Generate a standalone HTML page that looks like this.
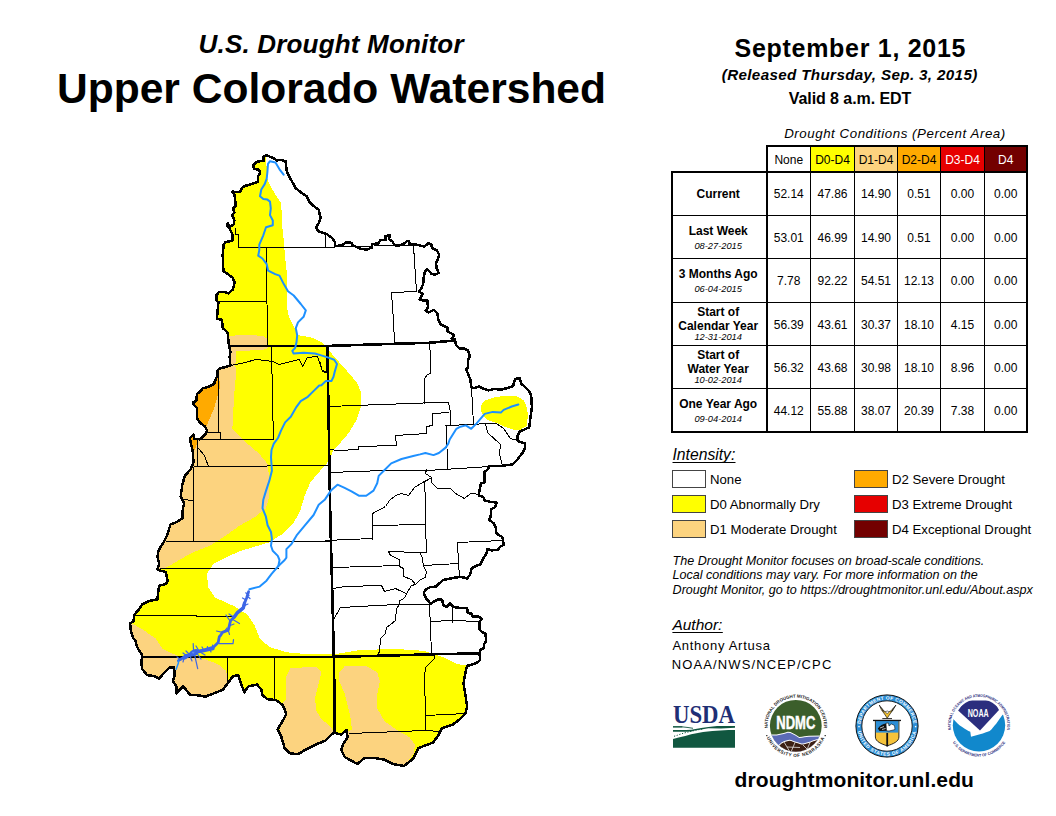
<!DOCTYPE html><html><head><meta charset="utf-8"><title>U.S. Drought Monitor - Upper Colorado Watershed</title>
<style>html,body{margin:0;padding:0;background:#fff;}svg{display:block;}text{font-family:"Liberation Sans",Arial,sans-serif;}</style></head><body>
<svg width="1056" height="816" viewBox="0 0 1056 816">
<rect width="1056" height="816" fill="#fff"/>
<text x="331" y="53" text-anchor="middle" font-size="26" font-weight="bold" font-style="italic" textLength="265" lengthAdjust="spacing">U.S. Drought Monitor</text>
<text x="331.5" y="102.5" text-anchor="middle" font-size="42.8" font-weight="bold" textLength="549" lengthAdjust="spacingAndGlyphs">Upper Colorado Watershed</text>
<text x="850" y="56.8" text-anchor="middle" font-size="25" font-weight="bold" textLength="231" lengthAdjust="spacing">September 1, 2015</text>
<text x="849.5" y="80.4" text-anchor="middle" font-size="15.2" font-weight="bold" font-style="italic" textLength="255.5" lengthAdjust="spacing">(Released Thursday, Sep. 3, 2015)</text>
<text x="850" y="104.1" text-anchor="middle" font-size="16" font-weight="bold" textLength="122.5" lengthAdjust="spacing">Valid 8 a.m. EDT</text>
<text x="894.7" y="138" text-anchor="middle" font-size="13.3" font-style="italic" textLength="221" lengthAdjust="spacing">Drought Conditions (Percent Area)</text>
<rect x="767" y="146" width="43.5" height="26" fill="#ffffff"/>
<text x="788.75" y="163.8" text-anchor="middle" font-size="12" fill="#000">None</text>
<rect x="810.5" y="146" width="44.0" height="26" fill="#ffff00"/>
<text x="832.5" y="163.8" text-anchor="middle" font-size="12" fill="#000">D0-D4</text>
<rect x="854.5" y="146" width="43.0" height="26" fill="#fcd37f"/>
<text x="876.0" y="163.8" text-anchor="middle" font-size="12" fill="#000">D1-D4</text>
<rect x="897.5" y="146" width="43.0" height="26" fill="#ffaa00"/>
<text x="919.0" y="163.8" text-anchor="middle" font-size="12" fill="#000">D2-D4</text>
<rect x="940.5" y="146" width="44.0" height="26" fill="#e60000"/>
<text x="962.5" y="163.8" text-anchor="middle" font-size="12" fill="#fff">D3-D4</text>
<rect x="984.5" y="146" width="42.5" height="26" fill="#730000"/>
<text x="1005.75" y="163.8" text-anchor="middle" font-size="12" fill="#fff">D4</text>
<rect x="672" y="172" width="355" height="260" fill="#fff"/>
<text x="788.75" y="197.7" text-anchor="middle" font-size="12">52.14</text>
<text x="832.5" y="197.7" text-anchor="middle" font-size="12">47.86</text>
<text x="876.0" y="197.7" text-anchor="middle" font-size="12">14.90</text>
<text x="919.0" y="197.7" text-anchor="middle" font-size="12">0.51</text>
<text x="962.5" y="197.7" text-anchor="middle" font-size="12">0.00</text>
<text x="1005.75" y="197.7" text-anchor="middle" font-size="12">0.00</text>
<text x="718.2" y="197.7" text-anchor="middle" font-size="12" font-weight="bold">Current</text>
<text x="788.75" y="242.0" text-anchor="middle" font-size="12">53.01</text>
<text x="832.5" y="242.0" text-anchor="middle" font-size="12">46.99</text>
<text x="876.0" y="242.0" text-anchor="middle" font-size="12">14.90</text>
<text x="919.0" y="242.0" text-anchor="middle" font-size="12">0.51</text>
<text x="962.5" y="242.0" text-anchor="middle" font-size="12">0.00</text>
<text x="1005.75" y="242.0" text-anchor="middle" font-size="12">0.00</text>
<text x="718.2" y="235.0" text-anchor="middle" font-size="12" font-weight="bold">Last Week</text>
<text x="718.2" y="249.1" text-anchor="middle" font-size="9.3" font-style="italic">08-27-2015</text>
<text x="788.75" y="285.0" text-anchor="middle" font-size="12">7.78</text>
<text x="832.5" y="285.0" text-anchor="middle" font-size="12">92.22</text>
<text x="876.0" y="285.0" text-anchor="middle" font-size="12">54.51</text>
<text x="919.0" y="285.0" text-anchor="middle" font-size="12">12.13</text>
<text x="962.5" y="285.0" text-anchor="middle" font-size="12">0.00</text>
<text x="1005.75" y="285.0" text-anchor="middle" font-size="12">0.00</text>
<text x="718.2" y="278.0" text-anchor="middle" font-size="12" font-weight="bold">3 Months Ago</text>
<text x="718.2" y="292.1" text-anchor="middle" font-size="9.3" font-style="italic">06-04-2015</text>
<text x="788.75" y="328.7" text-anchor="middle" font-size="12">56.39</text>
<text x="832.5" y="328.7" text-anchor="middle" font-size="12">43.61</text>
<text x="876.0" y="328.7" text-anchor="middle" font-size="12">30.37</text>
<text x="919.0" y="328.7" text-anchor="middle" font-size="12">18.10</text>
<text x="962.5" y="328.7" text-anchor="middle" font-size="12">4.15</text>
<text x="1005.75" y="328.7" text-anchor="middle" font-size="12">0.00</text>
<text x="718.2" y="315.7" text-anchor="middle" font-size="12" font-weight="bold">Start of</text>
<text x="718.2" y="329.6" text-anchor="middle" font-size="12" font-weight="bold">Calendar Year</text>
<text x="718.2" y="339.8" text-anchor="middle" font-size="9.3" font-style="italic">12-31-2014</text>
<text x="788.75" y="371.9" text-anchor="middle" font-size="12">56.32</text>
<text x="832.5" y="371.9" text-anchor="middle" font-size="12">43.68</text>
<text x="876.0" y="371.9" text-anchor="middle" font-size="12">30.98</text>
<text x="919.0" y="371.9" text-anchor="middle" font-size="12">18.10</text>
<text x="962.5" y="371.9" text-anchor="middle" font-size="12">8.96</text>
<text x="1005.75" y="371.9" text-anchor="middle" font-size="12">0.00</text>
<text x="718.2" y="358.7" text-anchor="middle" font-size="12" font-weight="bold">Start of</text>
<text x="718.2" y="372.6" text-anchor="middle" font-size="12" font-weight="bold">Water Year</text>
<text x="718.2" y="382.8" text-anchor="middle" font-size="9.3" font-style="italic">10-02-2014</text>
<text x="788.75" y="414.6" text-anchor="middle" font-size="12">44.12</text>
<text x="832.5" y="414.6" text-anchor="middle" font-size="12">55.88</text>
<text x="876.0" y="414.6" text-anchor="middle" font-size="12">38.07</text>
<text x="919.0" y="414.6" text-anchor="middle" font-size="12">20.39</text>
<text x="962.5" y="414.6" text-anchor="middle" font-size="12">7.38</text>
<text x="1005.75" y="414.6" text-anchor="middle" font-size="12">0.00</text>
<text x="718.2" y="408.0" text-anchor="middle" font-size="12" font-weight="bold">One Year Ago</text>
<text x="718.2" y="422.1" text-anchor="middle" font-size="9.3" font-style="italic">09-04-2014</text>
<line x1="672" y1="215.5" x2="1027" y2="215.5" stroke="#000" stroke-width="1"/>
<line x1="672" y1="258.5" x2="1027" y2="258.5" stroke="#000" stroke-width="1"/>
<line x1="672" y1="302.5" x2="1027" y2="302.5" stroke="#000" stroke-width="1"/>
<line x1="672" y1="345.5" x2="1027" y2="345.5" stroke="#000" stroke-width="1"/>
<line x1="672" y1="388.5" x2="1027" y2="388.5" stroke="#000" stroke-width="1"/>
<line x1="810.5" y1="146" x2="810.5" y2="432" stroke="#000" stroke-width="1"/>
<line x1="854.5" y1="146" x2="854.5" y2="432" stroke="#000" stroke-width="1"/>
<line x1="897.5" y1="146" x2="897.5" y2="432" stroke="#000" stroke-width="1"/>
<line x1="940.5" y1="146" x2="940.5" y2="432" stroke="#000" stroke-width="1"/>
<line x1="984.5" y1="146" x2="984.5" y2="432" stroke="#000" stroke-width="1"/>
<path d="M767,146 H1027 V432 H672 V172 H1027" fill="none" stroke="#000" stroke-width="2"/>
<line x1="767" y1="145" x2="767" y2="432" stroke="#000" stroke-width="2"/>
<text x="672.5" y="459.8" font-size="15.7" font-style="italic">Intensity:</text>
<line x1="672.5" y1="462.5" x2="735.5" y2="462.5" stroke="#000" stroke-width="1"/>
<rect x="672.5" y="470.5" width="33" height="17" fill="#ffffff" stroke="#444" stroke-width="1"/>
<text x="710" y="483.7" font-size="13.2">None</text>
<rect x="672.5" y="495.5" width="33" height="17" fill="#ffff00" stroke="#444" stroke-width="1"/>
<text x="710" y="508.7" font-size="13.2">D0 Abnormally Dry</text>
<rect x="672.5" y="520.5" width="33" height="17" fill="#fcd37f" stroke="#444" stroke-width="1"/>
<text x="710" y="533.7" font-size="13.2">D1 Moderate Drought</text>
<rect x="854.5" y="470.5" width="33" height="17" fill="#ffaa00" stroke="#444" stroke-width="1"/>
<text x="892" y="483.7" font-size="13.2">D2 Severe Drought</text>
<rect x="854.5" y="495.5" width="33" height="17" fill="#e60000" stroke="#444" stroke-width="1"/>
<text x="892" y="508.7" font-size="13.2">D3 Extreme Drought</text>
<rect x="854.5" y="520.5" width="33" height="17" fill="#730000" stroke="#444" stroke-width="1"/>
<text x="892" y="533.7" font-size="13.2">D4 Exceptional Drought</text>
<text x="672.6" y="564.9" font-size="12.55" font-style="italic">The Drought Monitor focuses on broad-scale conditions.</text>
<text x="672.6" y="579.4" font-size="12.55" font-style="italic">Local conditions may vary. For more information on the</text>
<text x="672.6" y="593.9" font-size="12.55" font-style="italic">Drought Monitor, go to https://droughtmonitor.unl.edu/About.aspx</text>
<text x="672.4" y="629.7" font-size="15.5" font-style="italic">Author:</text>
<line x1="672.4" y1="632.5" x2="722.8" y2="632.5" stroke="#000" stroke-width="1"/>
<text x="672.4" y="649.5" font-size="13" textLength="97.5" lengthAdjust="spacing">Anthony Artusa</text>
<text x="671.8" y="668.5" font-size="13" textLength="159.5" lengthAdjust="spacing">NOAA/NWS/NCEP/CPC</text>
<text x="854.2" y="787" text-anchor="middle" font-size="21" font-weight="bold" textLength="239.5" lengthAdjust="spacing">droughtmonitor.unl.edu</text>
<text x="673" y="722.7" style="font-family:'Liberation Serif',serif" font-size="26" font-weight="bold" fill="#1f2f75" textLength="62" lengthAdjust="spacingAndGlyphs">USDA</text>
<g fill="#115740"><polygon points="673,739.1 678.6,737.6 685.2,735.9 691.2,734.3 697.8,732.9 703.1,731.9 712.4,731.1 728.3,730.1 735,729.9 735,747.7 673,747.7"/><rect x="673" y="726.1" width="9.6" height="1.5"/><polygon points="717,726.1 735,726.1 735,727.8 721,728.6 708.4,728.3 701.2,729.4 695,730.6 691.2,731.4 686,731.7 673,731.7 673,730.1 686,730.1 691.2,729.7 701.2,727.9 708.4,727 "/></g>
<polyline points="682.6,726.9 688,727.5 693,728.3" fill="none" stroke="#115740" stroke-width="0.9"/>
<polyline points="674,736.3 677.3,735.3 680,734.3 684,733 690,731.6 696.5,730 703,729" fill="none" stroke="#115740" stroke-width="1" stroke-dasharray="1.2,1.6"/>
<defs><clipPath id="ndmcc"><circle cx="795.8" cy="725.8" r="25.9"/></clipPath><path id="ndmcarc" d="M768.03,730.70 A28.2,28.2 0 1,1 823.57,730.70"/><path id="ndmcarc2" d="M766.48,736.47 A31.2,31.2 0 0,0 825.12,736.47"/></defs>
<g clip-path="url(#ndmcc)"><rect x="768.8" y="698.8" width="54" height="54" fill="#3b5e2b"/><path d="M765,734.4 L771.1,734.4 C776,734.8 781,734 787.8,731.7 C791,731.6 794,733.5 799.2,737.1 C803,736.8 806,735.9 809,735.8 L826,735.5 V760 H765 Z" fill="#fff"/><path d="M765,735.4 L771.1,735.4 C776,735.8 781,735 787.8,732.7 C791,732.6 794,734.5 799.2,738.1 C803,737.8 806,736.9 809,736.8 L826,736.5 V760 H765 Z" fill="#5b6bb6"/><path d="M765,760 L765,747 L778.7,745.2 C781,742.6 783,741 789.3,739.8 C792,740 794,741.4 796.9,742.1 C799,742.9 801,743.6 803,743.6 C806,742.8 808,742 810.6,741.4 C813,740 816,739 826,737.5 V760 Z" fill="#fff"/><path d="M765,760 L765,748 L778.9,746.2 C781.2,743.6 783.2,742 789.3,740.8 C792,741 794,742.4 796.9,743.1 C799,743.9 801,744.6 803,744.6 C806,743.8 808,743 810.6,742.4 C813,741 816,740 826,738.5 V760 Z" fill="#3d2014"/><path d="M784,742 L790,752 M795,742.5 L791,752 M803,745 L808,750 M810,742.5 L806,752 M787,747 L800,747.5" stroke="#fff" stroke-width="0.7" fill="none"/></g>
<text x="795.8" y="728.6" text-anchor="middle" font-size="18" font-weight="bold" fill="#fff" stroke="#fff" stroke-width="0.5" textLength="39" lengthAdjust="spacingAndGlyphs">NDMC</text>
<text font-size="4.4" font-weight="bold" fill="#1a1a1a"><textPath href="#ndmcarc" startOffset="50%" text-anchor="middle" textLength="93" lengthAdjust="spacingAndGlyphs">NATIONAL DROUGHT MITIGATION CENTER</textPath></text>
<text font-size="4.6" font-weight="bold" fill="#1a1a1a" letter-spacing="0.5"><textPath href="#ndmcarc2" startOffset="50%" text-anchor="middle">UNIVERSITY OF NEBRASKA</textPath></text>
<rect x="766.2" y="735" width="1.2" height="1.2" fill="#1a1a1a"/><rect x="824.6" y="735" width="1.2" height="1.2" fill="#1a1a1a"/>
<circle cx="887" cy="726" r="31.1" fill="#2c8ed6" stroke="#111" stroke-width="1"/>
<circle cx="887" cy="726" r="25.2" fill="#fff" stroke="#111" stroke-width="0.9"/>
<defs><path id="docarc" d="M860.86,729.67 A26.4,26.4 0 1,1 913.14,729.67"/><path id="docarc2" d="M857.59,730.13 A29.7,29.7 0 0,0 916.41,730.13"/></defs>
<text font-size="4.8" font-weight="bold" fill="#fff" letter-spacing="0.35"><textPath href="#docarc" startOffset="50%" text-anchor="middle">DEPARTMENT OF COMMERCE</textPath></text>
<text font-size="4.8" font-weight="bold" fill="#fff" letter-spacing="0.55"><textPath href="#docarc2" startOffset="50%" text-anchor="middle">UNITED STATES OF AMERICA</textPath></text>
<rect x="858.3" y="725.9" width="1.4" height="1.4" fill="#fff"/><rect x="914.9" y="725.9" width="1.4" height="1.4" fill="#fff"/>
<path d="M875.4,720.6 H898.9 V737 C898.9,741.5 893,744 887.2,745.8 C881.4,744 875.4,741.5 875.4,737 Z" fill="#f5c33b" stroke="#111" stroke-width="0.9"/>
<rect x="875.9" y="721" width="22.5" height="11.6" fill="#2c8ed6"/>
<rect x="873" y="719.8" width="28" height="1.3" fill="#111"/>
<path d="M877.8,728.5 C880,725.5 883,724 886,723.6 L887,730.8 L879.5,731 Z" fill="#111"/>
<path d="M886,723.2 L888.5,723 L889,726 L891.5,724 L894.5,725.5 L895,729.5 L889,731 L886.5,730.8 Z" fill="#fff" stroke="#111" stroke-width="0.6"/>
<path d="M880,728 L884,726.5 M882,729.5 L885.5,728.5 M889.5,727 L893.5,726.8 M890,729 L894,728.6" stroke="#fff" stroke-width="0.7"/>
<line x1="887.2" y1="733" x2="887.2" y2="746.5" stroke="#111" stroke-width="1.8"/>
<path d="M879.3,705 L881.5,710 L884.5,714 L887.2,718.2 L890,714 L893,710 L895.9,705 L893.5,708.5 L890.5,711 L887.2,712.5 L884,711 L881.5,708.5 Z" fill="#f2c12e" stroke="#1a1a1a" stroke-width="0.7"/>
<path d="M880.5,707 L883,709.5 M882,710 L884.5,712 M894.6,707 L892,709.5 M893.2,710 L890.5,712" stroke="#1a1a1a" stroke-width="0.8"/>
<circle cx="887.2" cy="712.2" r="1.3" fill="#fff" stroke="#1a1a1a" stroke-width="0.5"/>
<line x1="882.3" y1="718.6" x2="892" y2="718.6" stroke="#111" stroke-width="0.9"/>
<defs><clipPath id="noaac"><circle cx="979" cy="725.2" r="26.2"/></clipPath><path id="noaaarc" d="M951.32,731.08 A28.3,28.3 0 1,1 1006.68,731.08"/><path id="noaaarc2" d="M950.45,738.51 A31.5,31.5 0 0,0 1007.55,738.51"/></defs>
<g clip-path="url(#noaac)"><rect x="952" y="698.2" width="54" height="54" fill="#fff"/><polygon points="958.1,710.4 963.5,703 968,700.6 990,700.6 995,703 999,710 980,730.6" fill="#2b2e7e"/><path d="M950,717 L953.3,718.9 C956,722 959,725 962.2,727 C965,729 968,731 970.3,731.8 L971,736.7 L980,734.3 C984,733 987,732 989.7,731 C992,729 994,726 996.2,723.7 C998.5,720.5 1000.5,717.5 1002.6,714.8 L1008,712 V760 H950 Z" fill="#1188cc"/></g>
<text x="978.2" y="717.3" text-anchor="middle" font-size="10.2" font-weight="bold" fill="#fff" textLength="21" lengthAdjust="spacingAndGlyphs">NOAA</text>
<text font-size="3.9" font-weight="bold" fill="#2b2e7e"><textPath href="#noaaarc" startOffset="50%" text-anchor="middle" textLength="98" lengthAdjust="spacingAndGlyphs">NATIONAL OCEANIC AND ATMOSPHERIC ADMINISTRATION</textPath></text>
<text font-size="3.9" font-weight="bold" fill="#2b2e7e"><textPath href="#noaaarc2" startOffset="50%" text-anchor="middle" textLength="62" lengthAdjust="spacingAndGlyphs">U.S. DEPARTMENT OF COMMERCE</textPath></text>
<defs><clipPath id="ws"><polygon points="266.0,155.1 272.8,157.8 276.8,160.5 280.9,159.8 285.6,161.2 286.9,172.0 290.3,178.7 294.3,185.4 295.7,188.1 302.4,193.5 306.5,196.2 309.2,201.6 313.2,205.6 318.6,209.7 320.6,217.8 318.6,223.2 315.9,227.9 318.6,231.3 326.7,234.0 332.1,238.0 334.8,242.0 335.4,246.1 342.3,245.2 345.9,242.2 351.5,242.8 352.7,245.2 358.2,247.7 360.6,248.9 366.8,249.5 371.7,247.7 372.3,244.0 378.4,243.4 380.3,240.3 385.8,239.7 385.2,236.0 390.0,235.4 388.8,239.1 392.5,241.5 394.4,245.2 398.6,245.8 403.5,244.0 407.2,240.9 409.1,240.9 409.7,244.6 415.8,244.6 424.4,246.5 428.1,243.4 431.1,244.0 432.3,248.3 436.6,250.1 439.1,254.4 437.9,259.3 436.0,263.0 436.6,267.9 438.5,272.8 435.4,274.6 431.7,274.0 429.3,271.0 426.8,269.1 425.0,271.6 423.8,276.5 423.2,283.8 421.3,288.7 418.9,291.2 419.7,292.2 423.0,293.9 421.3,296.6 419.7,299.9 424.1,300.5 427.4,300.5 428.0,307.6 425.8,310.4 428.5,312.6 431.8,310.9 434.0,309.8 437.3,313.2 438.4,319.8 440.6,324.2 443.9,325.8 447.8,328.0 447.3,331.3 450.6,333.0 453.9,335.2 451.7,338.5 455.0,339.6 456.1,345.1 459.4,348.4 463.8,348.4 468.2,350.6 469.9,356.2 468.2,359.5 467.7,368.3 466.0,369.4 468.2,373.8 470.4,380.0 471.2,387.0 473.9,388.3 479.3,386.3 482.0,388.3 488.8,390.3 494.2,389.0 500.9,389.7 506.3,388.3 513.0,386.3 515.1,378.9 519.8,378.2 521.1,383.6 525.2,387.0 529.2,391.0 531.2,395.7 531.9,407.2 530.6,416.6 529.2,427.4 519.8,431.5 517.7,435.5 517.7,440.9 525.2,443.6 525.2,447.6 522.5,453.0 517.1,459.8 512.6,464.4 500.9,465.9 489.1,465.9 488.4,468.8 484.7,471.8 484.7,482.1 481.0,483.5 479.6,489.4 478.8,495.3 483.2,496.8 484.7,500.4 490.6,501.9 496.5,502.6 495.0,507.1 491.3,509.3 490.6,517.4 489.1,519.6 493.5,523.2 495.7,527.6 496.5,533.5 502.4,537.2 503.8,544.6 500.1,546.8 497.9,549.7 492.1,550.4 487.6,549.0 486.2,554.1 483.2,558.5 481.5,562.0 480.3,564.4 474.4,566.6 471.5,568.8 470.0,574.7 467.1,578.4 461.2,576.9 455.3,577.6 443.5,579.9 439.1,583.5 436.2,586.5 430.3,587.2 425.9,589.4 423.7,593.1 425.9,598.2 428.8,601.2 430.3,604.1 434.7,601.2 437.6,599.7 442.1,599.7 443.5,605.6 446.5,607.1 450.1,603.4 453.8,607.1 459.7,607.8 467.1,607.8 467.8,612.9 471.5,613.7 472.9,616.6 478.8,616.6 481.8,618.8 479.6,621.8 479.6,629.1 481.8,632.1 485.4,633.5 486.2,640.9 484.0,644.6 484.0,648.2 480.3,649.7 479.6,654.1 480.3,660.0 477.4,662.2 472.9,664.4 467.1,665.9 465.6,671.8 463.5,683.2 465.3,694.0 467.1,706.6 465.3,713.8 459.9,719.2 452.7,724.6 441.9,728.2 438.3,735.4 432.9,742.6 418.5,748.0 413.1,758.7 404.1,765.9 393.4,764.1 384.4,759.6 373.6,757.8 364.6,757.8 357.4,764.1 344.8,757.0 341.2,749.8 343.0,744.4 347.5,737.2 346.6,730.0 341.2,734.5 334.0,732.7 330.4,735.4 325.0,740.8 316.0,744.4 305.2,749.8 298.0,754.2 289.7,753.2 284.6,748.1 281.1,736.1 277.7,729.2 282.9,720.6 286.3,713.8 282.9,705.2 276.0,700.1 267.4,699.2 262.3,694.9 261.4,689.8 257.1,684.6 248.5,686.3 244.3,692.3 240.8,682.9 238.2,675.2 233.1,676.0 228.0,682.9 222.8,689.8 214.2,693.2 205.6,696.6 195.3,694.9 190.2,694.9 183.3,686.3 176.5,693.2 176.5,686.3 173.0,681.2 174.8,674.3 173.9,667.5 169.6,667.5 162.7,674.3 159.3,678.6 154.2,676.0 147.3,675.2 142.2,669.2 141.3,662.3 142.2,655.4 137.0,646.9 135.3,640.0 133.5,638.6 131.0,631.8 130.1,623.3 133.5,621.6 134.4,614.8 138.6,609.7 142.0,604.5 148.9,601.1 157.4,599.4 158.2,592.6 159.1,585.8 165.9,584.1 167.6,580.7 165.9,572.2 157.4,569.6 159.1,563.6 157.4,556.8 158.5,551.0 160.2,547.4 163.6,542.3 167.0,535.4 170.5,524.4 177.3,521.8 182.4,518.4 182.4,511.6 184.1,503.1 180.7,496.2 182.4,484.3 184.9,475.8 190.9,469.0 193.5,462.2 192.6,450.2 190.7,442.3 189.9,438.0 193.5,434.5 194.2,438.7 199.9,439.4 202.7,436.6 205.6,433.8 207.0,430.2 204.9,426.6 199.9,422.4 197.0,418.1 197.0,408.2 194.2,405.3 192.8,402.5 196.3,401.1 197.0,394.0 199.9,391.8 202.7,388.3 208.4,386.9 214.1,384.0 214.8,381.2 216.9,376.9 217.6,370.5 219.8,368.4 225.5,367.0 230.4,365.6 229.7,357.0 230.4,351.4 229.0,345.7 228.4,340.9 227.6,332.4 222.7,328.1 222.0,319.6 217.0,318.9 217.7,309.7 218.4,302.6 216.3,300.4 216.3,295.5 219.1,291.9 224.1,291.9 228.4,293.3 232.6,289.8 234.7,282.7 232.6,277.7 226.9,273.4 223.4,271.3 222.7,255.0 223.6,244.7 225.6,242.0 232.3,240.7 232.3,234.0 229.6,228.6 227.0,225.9 227.6,223.2 229.6,227.2 233.7,224.5 234.4,220.5 232.3,215.1 234.4,212.4 233.0,208.3 235.7,205.6 235.0,198.9 234.4,194.9 232.3,191.5 236.4,192.2 240.4,191.5 241.8,188.1 244.5,186.1 253.9,183.4 258.0,181.4 258.0,176.0 260.0,173.3 259.3,169.9 253.9,168.6 253.2,165.2 256.6,161.8 264.0,160.5 263.3,157.1"/></clipPath></defs>
<g clip-path="url(#ws)" shape-rendering="crispEdges">
<polygon points="266.0,150.0 266.0,157.8 267.4,178.7 270.0,185.4 275.5,194.9 280.9,203.0 281.5,209.7 282.2,225.9 283.6,239.3 284.9,255.0 286.6,271.3 286.6,306.8 289.4,318.2 295.1,329.5 298.0,335.2 303.6,335.9 313.6,338.1 322.1,342.3 327.1,348.4 337.0,359.8 348.4,372.6 356.9,382.5 360.5,391.0 361.2,399.5 360.5,408.1 356.9,419.4 348.5,433.2 339.7,443.5 333.8,449.4 330.1,458.2 326.0,464.5 318.7,472.4 310.2,482.6 305.1,494.5 300.0,511.6 293.2,523.5 282.9,533.7 269.3,542.3 252.3,547.4 240.0,551.0 227.3,556.8 213.6,563.6 206.8,573.9 208.5,587.5 215.3,597.7 234.1,606.2 247.7,614.8 254.5,625.0 259.7,638.6 269.9,647.2 286.9,652.3 305.0,654.0 320.0,653.5 339.4,653.5 361.0,649.9 397.0,649.0 423.9,650.8 434.7,654.4 445.5,658.0 458.2,664.4 468.5,665.1 480.0,664.0 560.0,664.0 560.0,800.0 100.0,800.0 100.0,150.0" fill="#ffff00"/>
<polygon points="482.0,403.1 484.7,400.4 495.5,397.1 506.3,395.7 517.1,396.4 523.8,400.4 527.2,408.5 527.9,416.6 526.5,426.1 519.8,430.1 514.4,430.1 506.3,427.4 498.2,423.4 487.4,420.0 482.0,413.9 480.7,408.5" fill="#ffff00"/>
<polygon points="100.0,336.0 229.0,336.0 240.0,335.0 255.0,335.3 264.0,336.5 267.5,339.0 268.5,343.0 268.0,348.0 262.0,350.0 250.0,350.5 236.0,351.0 235.4,365.6 236.1,374.0 234.0,396.8 232.6,425.2 231.8,428.1 242.5,439.4 259.1,453.6 267.6,463.9 269.3,479.2 269.3,496.2 265.9,508.2 255.7,516.7 240.3,525.2 223.3,537.2 209.7,545.7 192.6,552.5 179.0,560.0 176.1,561.9 167.6,567.0 150.0,572.0 100.0,572.0" fill="#fcd37f"/>
<polygon points="100.0,615.0 131.8,623.3 143.7,630.1 155.7,638.6 162.5,648.9 176.5,655.4 203.9,658.9 217.7,664.0 226.2,670.9 229.0,690.0 229.0,720.0 100.0,720.0" fill="#fcd37f"/>
<polygon points="286.3,676.0 287.2,674.2 290.8,667.9 316.0,667.0 321.4,672.4 318.7,683.2 315.1,697.6 316.0,710.2 321.4,719.2 330.4,726.4 334.0,731.8 334.0,780.0 280.0,780.0 280.0,705.0 286.3,699.4" fill="#fcd37f"/>
<polygon points="339.4,672.4 344.8,666.1 366.4,666.1 377.2,672.4 379.9,681.4 377.2,694.0 377.2,708.4 384.4,721.0 396.9,730.0 409.5,737.2 414.9,744.4 414.0,753.4 405.9,764.1 405.0,780.0 336.0,780.0 336.0,736.0 343.0,732.0 352.0,730.0 350.2,715.6 344.8,694.0 339.4,681.4" fill="#fcd37f"/>
<polygon points="217.6,373.4 220.5,385.5 214.1,408.2 206.3,426.6 180.0,426.6 180.0,373.4" fill="#ffaa00"/>
<polygon points="190.0,437.0 197.5,437.0 197.0,444.0 195.0,450.0 190.0,450.0" fill="#ffaa00"/>
</g>
<g shape-rendering="crispEdges" fill="none" stroke="#000">
<polyline points="235.5,227.5 235.5,234.5 238.5,234.5 238.5,247.5 334.5,247.5" stroke-width="1"/>
<polyline points="335.5,246.5 413.5,245.5 416.5,291.5 391.5,292.5" stroke-width="1"/>
<polyline points="325.5,234.5 325.5,247.5" stroke-width="1"/>
<polyline points="266.5,247.5 266.5,260.5 267.5,345.5" stroke-width="1"/>
<polyline points="391.5,292.5 393.5,320.5 394.5,343.5" stroke-width="1"/>
<polyline points="218.5,301.5 266.5,301.5" stroke-width="1"/>
<polyline points="230.5,365.5 245.5,362.5 255.5,359.5 265.5,360.5 272.5,361.5 279.5,364.5 290.5,361.5 299.5,359.5 302.5,366.5 307.5,357.5 317.5,356.5 322.5,371.5 326.5,372.5" stroke-width="1"/>
<polyline points="271.5,345.5 272.5,401.5 273.5,439.5" stroke-width="1"/>
<polyline points="218.5,368.5 218.5,432.5" stroke-width="1"/>
<polyline points="205.5,432.5 220.5,432.5 220.5,439.5" stroke-width="1"/>
<polyline points="199.5,439.5 273.5,439.5" stroke-width="1"/>
<polyline points="197.5,439.5 197.5,466.5" stroke-width="1"/>
<polyline points="198.5,448.5 204.5,455.5 208.5,466.5" stroke-width="1"/>
<polyline points="193.5,466.5 208.5,466.5 328.5,465.5" stroke-width="1"/>
<polyline points="193.5,466.5 193.5,540.5" stroke-width="1"/>
<polyline points="182.5,499.5 193.5,500.5" stroke-width="1"/>
<polyline points="165.5,541.5 329.5,541.5" stroke-width="1"/>
<polyline points="159.5,568.5 278.5,568.5" stroke-width="1"/>
<polyline points="134.5,615.5 196.5,615.5 196.5,616.5 232.5,616.5" stroke-width="1"/>
<polyline points="227.5,656.5 227.5,682.5" stroke-width="1"/>
<polyline points="274.5,656.5 274.5,699.5" stroke-width="1"/>
<polyline points="320.5,362.5 321.5,369.5 326.5,372.5" stroke-width="1"/>
<polyline points="429.5,342.5 430.5,357.5 430.5,373.5 427.5,374.5 424.5,378.5 424.5,403.5" stroke-width="1"/>
<polyline points="328.5,406.5 381.5,404.5 410.5,403.5 436.5,402.5 448.5,402.5 450.5,412.5 450.5,425.5" stroke-width="1"/>
<polyline points="432.5,413.5 449.5,412.5" stroke-width="1"/>
<polyline points="432.5,413.5 432.5,425.5 426.5,426.5 426.5,433.5 395.5,435.5 396.5,445.5 358.5,446.5 358.5,449.5 338.5,450.5 329.5,449.5" stroke-width="1"/>
<polyline points="471.5,387.5 473.5,424.5" stroke-width="1"/>
<polyline points="445.5,425.5 473.5,424.5 485.5,423.5 496.5,423.5" stroke-width="1"/>
<polyline points="446.5,425.5 447.5,470.5" stroke-width="1"/>
<polyline points="485.5,423.5 487.5,432.5 500.5,444.5 499.5,453.5 501.5,462.5 502.5,465.5" stroke-width="1"/>
<polyline points="496.5,423.5 503.5,428.5 510.5,438.5 517.5,440.5" stroke-width="1"/>
<polyline points="329.5,472.5 383.5,470.5 427.5,470.5 459.5,468.5 489.5,466.5" stroke-width="1"/>
<polyline points="426.5,469.5 425.5,473.5 431.5,477.5 431.5,482.5 437.5,488.5 450.5,488.5 455.5,493.5 464.5,498.5 470.5,493.5 475.5,493.5 478.5,495.5" stroke-width="1"/>
<polyline points="431.5,477.5 428.5,479.5 424.5,481.5 414.5,487.5 408.5,495.5 401.5,493.5 395.5,495.5 389.5,500.5 385.5,506.5 372.5,513.5 372.5,539.5" stroke-width="1"/>
<polyline points="424.5,481.5 425.5,502.5 425.5,524.5 426.5,552.5" stroke-width="1"/>
<polyline points="372.5,525.5 425.5,524.5" stroke-width="1"/>
<polyline points="325.5,540.5 372.5,538.5" stroke-width="1"/>
<polyline points="457.5,542.5 502.5,540.5" stroke-width="1"/>
<polyline points="457.5,542.5 458.5,562.5 459.5,577.5" stroke-width="1"/>
<polyline points="426.5,552.5 418.5,552.5 388.5,551.5 390.5,555.5 399.5,559.5 399.5,566.5 403.5,568.5 403.5,576.5 411.5,579.5 415.5,584.5 420.5,579.5 425.5,577.5 426.5,571.5 423.5,566.5 422.5,558.5 420.5,553.5" stroke-width="1"/>
<polyline points="333.5,567.5 399.5,565.5" stroke-width="1"/>
<polyline points="423.5,565.5 458.5,563.5" stroke-width="1"/>
<polyline points="333.5,588.5 345.5,586.5 381.5,585.5 384.5,591.5 395.5,588.5 399.5,590.5 406.5,593.5 411.5,585.5 415.5,584.5" stroke-width="1"/>
<polyline points="333.5,619.5 340.5,607.5 396.5,604.5 429.5,604.5" stroke-width="1"/>
<polyline points="406.5,593.5 404.5,598.5 399.5,600.5 399.5,604.5 396.5,608.5 395.5,620.5 390.5,624.5 386.5,627.5 385.5,633.5 380.5,638.5 379.5,651.5 377.5,655.5" stroke-width="1"/>
<polyline points="429.5,604.5 431.5,653.5" stroke-width="1"/>
<polyline points="430.5,621.5 452.5,620.5 479.5,621.5" stroke-width="1"/>
<polyline points="452.5,606.5 452.5,622.5" stroke-width="1"/>
<polyline points="434.5,654.5 434.5,658.5 425.5,667.5 424.5,676.5 425.5,715.5 425.5,730.5" stroke-width="1"/>
<polyline points="425.5,715.5 466.5,713.5" stroke-width="1"/>
<polyline points="349.5,733.5 425.5,730.5 440.5,731.5" stroke-width="1"/>
<polyline points="228.3,346.0 326.3,346.0 360.5,344.9 394.6,343.8 429.6,342.8 442.8,341.5 455.0,340.6" stroke-width="2.6"/>
<polyline points="327.3,345.5 328.3,400.0 328.8,430.0 329.8,490.0 330.6,530.0 332.5,600.0 333.8,655.8 334.6,700.0 334.6,732.7" stroke-width="2.6"/>
<polyline points="142.2,657.0 305.0,657.0 334.0,656.8 379.0,655.8 434.9,654.2 480.3,653.4" stroke-width="2.6"/>
</g>
<g fill="none" stroke-linejoin="round" stroke-linecap="round">
<polyline points="283.6,174.6 279.5,169.3 275.5,162.5 270.0,161.2 268.0,163.9 267.4,172.0 266.7,178.7 264.7,184.1 261.3,189.5 260.0,196.2 263.3,198.9 267.4,199.6 270.0,201.6 270.8,208.3 270.0,215.1 272.8,220.5 272.8,225.2 266.0,227.2 263.3,235.3 259.3,244.7 259.3,250.1 258.2,255.7 262.4,258.5 266.7,264.2 268.1,270.6 275.2,274.1 279.5,275.6 283.8,284.1 288.0,291.2 293.7,295.5 300.8,304.0 305.8,310.4 303.6,316.8 298.0,322.4 295.8,328.1 297.2,335.2 296.5,342.3 295.1,348.0 292.3,350.9 293.6,353.5 303.6,352.8 314.9,353.5 322.0,355.6 328.5,357.6 334.2,359.8 337.0,364.0 334.9,371.1 333.5,376.8 331.4,381.1 325.7,381.1 321.4,385.3 319.2,385.5 313.5,391.1 307.8,396.8 300.7,401.1 296.5,406.8 290.8,416.7 285.1,422.4 280.9,430.9 278.0,438.0 273.8,443.7 271.5,450.0 271.0,457.0 271.9,470.7 269.3,480.9 265.9,491.1 263.3,499.7 262.5,508.2 265.9,516.7 267.6,525.2 271.0,532.0 271.9,538.9 271.0,545.7 272.7,550.8 277.8,555.9 279.5,560.0 278.4,566.0" stroke="#1e90ff" stroke-width="2"/>
<polyline points="518.4,404.5 511.7,406.5 503.6,409.9 500.9,412.6 492.8,411.9 484.7,413.9 476.6,423.4 471.2,428.8 465.8,425.4 460.4,426.7 456.4,428.8 449.7,439.5 448.3,443.6 445.6,447.6 438.9,453.0 433.5,455.1 425.4,453.0 420.0,454.4 413.2,456.0 401.5,459.0 391.2,463.4 383.8,470.7 378.7,475.9 377.2,483.2 373.5,490.6 366.2,495.7 358.8,495.7 351.5,491.3 344.1,487.6 337.5,484.7 330.9,490.6 325.0,499.4 318.7,504.8 313.6,515.0 305.1,525.2 296.6,535.4 291.5,544.0 286.4,549.1 286.4,557.6 284.7,560.0 278.4,566.0 271.6,573.9 266.5,580.7 259.7,586.6 249.4,589.2" stroke="#1e90ff" stroke-width="2"/>
<polyline points="248.6,591.6 246.8,597.5 244.5,603.3 243.3,607.9 237.5,612.6 234.0,617.3 230.5,620.8 229.4,625.4 228.2,630.1 222.4,632.4 220.5,635.5 219.3,636.8 218.2,642.5 213.6,647.0 204.5,649.9 197.7,651.6 193.2,652.7 187.5,655.6 181.8,658.4 178.4,660.7" stroke="#3d66e6" stroke-width="2.8"/>
<polyline points="213,648.7 207.3,649.9 201.4,651 195.6,652.2 191,654.5 186.3,656.8" stroke="#3d66e6" stroke-width="3.4"/>
<ellipse cx="194" cy="652.8" rx="5.5" ry="3.2" transform="rotate(-25 194 652.8)" fill="#3d66e6" stroke="none"/>
<ellipse cx="185.5" cy="656.8" rx="3.8" ry="2.2" transform="rotate(-35 185.5 656.8)" fill="#3d66e6" stroke="none"/>
<circle cx="193.5" cy="652.5" r="1" fill="#8fb8ff" stroke="none"/>
<polyline points="244.5,603.3 243.3,607.9 237.5,612.6 234,617.3" stroke="#3d66e6" stroke-width="3.4"/>
<polyline points="245.7,592.8 249.0,595.5" stroke="#3d66e6" stroke-width="1.2"/>
<polyline points="246.0,600.0 242.5,598.0" stroke="#3d66e6" stroke-width="1.2"/>
<polyline points="243.5,606.0 248.0,604.0" stroke="#3d66e6" stroke-width="1.2"/>
<polyline points="247.0,596.0 250.0,598.5" stroke="#3d66e6" stroke-width="1.2"/>
<polyline points="234.0,617.3 229.0,614.0" stroke="#3d66e6" stroke-width="1.2"/>
<polyline points="232.0,619.0 239.5,623.5" stroke="#3d66e6" stroke-width="1.2"/>
<polyline points="230.0,621.0 226.0,615.0" stroke="#3d66e6" stroke-width="1.2"/>
<polyline points="229.0,626.0 234.0,624.0" stroke="#3d66e6" stroke-width="1.2"/>
<polyline points="236.0,615.0 240.0,611.5" stroke="#3d66e6" stroke-width="1.2"/>
<polyline points="228.2,630.1 229.5,634.5" stroke="#3d66e6" stroke-width="1.2"/>
<polyline points="222.4,632.4 216.5,631.0" stroke="#3d66e6" stroke-width="1.2"/>
<polyline points="224.0,632.0 227.0,628.0" stroke="#3d66e6" stroke-width="1.2"/>
<polyline points="219.3,643.6 233.0,643.6 233.5,639.7" stroke="#3d66e6" stroke-width="1.2"/>
<polyline points="213.0,648.5 212.5,645.0" stroke="#3d66e6" stroke-width="1.2"/>
<polyline points="210.0,649.3 211.0,652.0" stroke="#3d66e6" stroke-width="1.2"/>
<polyline points="207.0,650.0 207.5,646.5" stroke="#3d66e6" stroke-width="1.2"/>
<polyline points="204.0,650.5 202.0,647.0" stroke="#3d66e6" stroke-width="1.2"/>
<polyline points="193.2,643.6 193.5,650.0 197.7,668.6" stroke="#3d66e6" stroke-width="1.2"/>
<polyline points="196.0,652.0 201.0,659.0" stroke="#3d66e6" stroke-width="1.2"/>
<polyline points="190.0,655.0 186.0,651.0" stroke="#3d66e6" stroke-width="1.2"/>
<polyline points="187.0,656.0 183.0,653.0" stroke="#3d66e6" stroke-width="1.2"/>
<polyline points="199.0,651.0 196.0,646.0" stroke="#3d66e6" stroke-width="1.2"/>
<polyline points="184.0,658.0 183.0,662.0" stroke="#3d66e6" stroke-width="1.2"/>
<polyline points="200.0,652.0 205.0,655.0" stroke="#3d66e6" stroke-width="1.2"/>
<polyline points="190.0,656.0 192.0,661.0" stroke="#3d66e6" stroke-width="1.2"/>
<polyline points="181.0,660.0 177.0,657.0" stroke="#3d66e6" stroke-width="1.2"/>
<polyline points="178.4,660.7 178.4,663 176.1,669.3" stroke="#1e90ff" stroke-width="1.5"/>
</g>
<polygon points="266.0,155.1 272.8,157.8 276.8,160.5 280.9,159.8 285.6,161.2 286.9,172.0 290.3,178.7 294.3,185.4 295.7,188.1 302.4,193.5 306.5,196.2 309.2,201.6 313.2,205.6 318.6,209.7 320.6,217.8 318.6,223.2 315.9,227.9 318.6,231.3 326.7,234.0 332.1,238.0 334.8,242.0 335.4,246.1 342.3,245.2 345.9,242.2 351.5,242.8 352.7,245.2 358.2,247.7 360.6,248.9 366.8,249.5 371.7,247.7 372.3,244.0 378.4,243.4 380.3,240.3 385.8,239.7 385.2,236.0 390.0,235.4 388.8,239.1 392.5,241.5 394.4,245.2 398.6,245.8 403.5,244.0 407.2,240.9 409.1,240.9 409.7,244.6 415.8,244.6 424.4,246.5 428.1,243.4 431.1,244.0 432.3,248.3 436.6,250.1 439.1,254.4 437.9,259.3 436.0,263.0 436.6,267.9 438.5,272.8 435.4,274.6 431.7,274.0 429.3,271.0 426.8,269.1 425.0,271.6 423.8,276.5 423.2,283.8 421.3,288.7 418.9,291.2 419.7,292.2 423.0,293.9 421.3,296.6 419.7,299.9 424.1,300.5 427.4,300.5 428.0,307.6 425.8,310.4 428.5,312.6 431.8,310.9 434.0,309.8 437.3,313.2 438.4,319.8 440.6,324.2 443.9,325.8 447.8,328.0 447.3,331.3 450.6,333.0 453.9,335.2 451.7,338.5 455.0,339.6 456.1,345.1 459.4,348.4 463.8,348.4 468.2,350.6 469.9,356.2 468.2,359.5 467.7,368.3 466.0,369.4 468.2,373.8 470.4,380.0 471.2,387.0 473.9,388.3 479.3,386.3 482.0,388.3 488.8,390.3 494.2,389.0 500.9,389.7 506.3,388.3 513.0,386.3 515.1,378.9 519.8,378.2 521.1,383.6 525.2,387.0 529.2,391.0 531.2,395.7 531.9,407.2 530.6,416.6 529.2,427.4 519.8,431.5 517.7,435.5 517.7,440.9 525.2,443.6 525.2,447.6 522.5,453.0 517.1,459.8 512.6,464.4 500.9,465.9 489.1,465.9 488.4,468.8 484.7,471.8 484.7,482.1 481.0,483.5 479.6,489.4 478.8,495.3 483.2,496.8 484.7,500.4 490.6,501.9 496.5,502.6 495.0,507.1 491.3,509.3 490.6,517.4 489.1,519.6 493.5,523.2 495.7,527.6 496.5,533.5 502.4,537.2 503.8,544.6 500.1,546.8 497.9,549.7 492.1,550.4 487.6,549.0 486.2,554.1 483.2,558.5 481.5,562.0 480.3,564.4 474.4,566.6 471.5,568.8 470.0,574.7 467.1,578.4 461.2,576.9 455.3,577.6 443.5,579.9 439.1,583.5 436.2,586.5 430.3,587.2 425.9,589.4 423.7,593.1 425.9,598.2 428.8,601.2 430.3,604.1 434.7,601.2 437.6,599.7 442.1,599.7 443.5,605.6 446.5,607.1 450.1,603.4 453.8,607.1 459.7,607.8 467.1,607.8 467.8,612.9 471.5,613.7 472.9,616.6 478.8,616.6 481.8,618.8 479.6,621.8 479.6,629.1 481.8,632.1 485.4,633.5 486.2,640.9 484.0,644.6 484.0,648.2 480.3,649.7 479.6,654.1 480.3,660.0 477.4,662.2 472.9,664.4 467.1,665.9 465.6,671.8 463.5,683.2 465.3,694.0 467.1,706.6 465.3,713.8 459.9,719.2 452.7,724.6 441.9,728.2 438.3,735.4 432.9,742.6 418.5,748.0 413.1,758.7 404.1,765.9 393.4,764.1 384.4,759.6 373.6,757.8 364.6,757.8 357.4,764.1 344.8,757.0 341.2,749.8 343.0,744.4 347.5,737.2 346.6,730.0 341.2,734.5 334.0,732.7 330.4,735.4 325.0,740.8 316.0,744.4 305.2,749.8 298.0,754.2 289.7,753.2 284.6,748.1 281.1,736.1 277.7,729.2 282.9,720.6 286.3,713.8 282.9,705.2 276.0,700.1 267.4,699.2 262.3,694.9 261.4,689.8 257.1,684.6 248.5,686.3 244.3,692.3 240.8,682.9 238.2,675.2 233.1,676.0 228.0,682.9 222.8,689.8 214.2,693.2 205.6,696.6 195.3,694.9 190.2,694.9 183.3,686.3 176.5,693.2 176.5,686.3 173.0,681.2 174.8,674.3 173.9,667.5 169.6,667.5 162.7,674.3 159.3,678.6 154.2,676.0 147.3,675.2 142.2,669.2 141.3,662.3 142.2,655.4 137.0,646.9 135.3,640.0 133.5,638.6 131.0,631.8 130.1,623.3 133.5,621.6 134.4,614.8 138.6,609.7 142.0,604.5 148.9,601.1 157.4,599.4 158.2,592.6 159.1,585.8 165.9,584.1 167.6,580.7 165.9,572.2 157.4,569.6 159.1,563.6 157.4,556.8 158.5,551.0 160.2,547.4 163.6,542.3 167.0,535.4 170.5,524.4 177.3,521.8 182.4,518.4 182.4,511.6 184.1,503.1 180.7,496.2 182.4,484.3 184.9,475.8 190.9,469.0 193.5,462.2 192.6,450.2 190.7,442.3 189.9,438.0 193.5,434.5 194.2,438.7 199.9,439.4 202.7,436.6 205.6,433.8 207.0,430.2 204.9,426.6 199.9,422.4 197.0,418.1 197.0,408.2 194.2,405.3 192.8,402.5 196.3,401.1 197.0,394.0 199.9,391.8 202.7,388.3 208.4,386.9 214.1,384.0 214.8,381.2 216.9,376.9 217.6,370.5 219.8,368.4 225.5,367.0 230.4,365.6 229.7,357.0 230.4,351.4 229.0,345.7 228.4,340.9 227.6,332.4 222.7,328.1 222.0,319.6 217.0,318.9 217.7,309.7 218.4,302.6 216.3,300.4 216.3,295.5 219.1,291.9 224.1,291.9 228.4,293.3 232.6,289.8 234.7,282.7 232.6,277.7 226.9,273.4 223.4,271.3 222.7,255.0 223.6,244.7 225.6,242.0 232.3,240.7 232.3,234.0 229.6,228.6 227.0,225.9 227.6,223.2 229.6,227.2 233.7,224.5 234.4,220.5 232.3,215.1 234.4,212.4 233.0,208.3 235.7,205.6 235.0,198.9 234.4,194.9 232.3,191.5 236.4,192.2 240.4,191.5 241.8,188.1 244.5,186.1 253.9,183.4 258.0,181.4 258.0,176.0 260.0,173.3 259.3,169.9 253.9,168.6 253.2,165.2 256.6,161.8 264.0,160.5 263.3,157.1" fill="none" stroke="#000" stroke-width="2.5" stroke-linejoin="round" shape-rendering="crispEdges"/>
</svg></body></html>
